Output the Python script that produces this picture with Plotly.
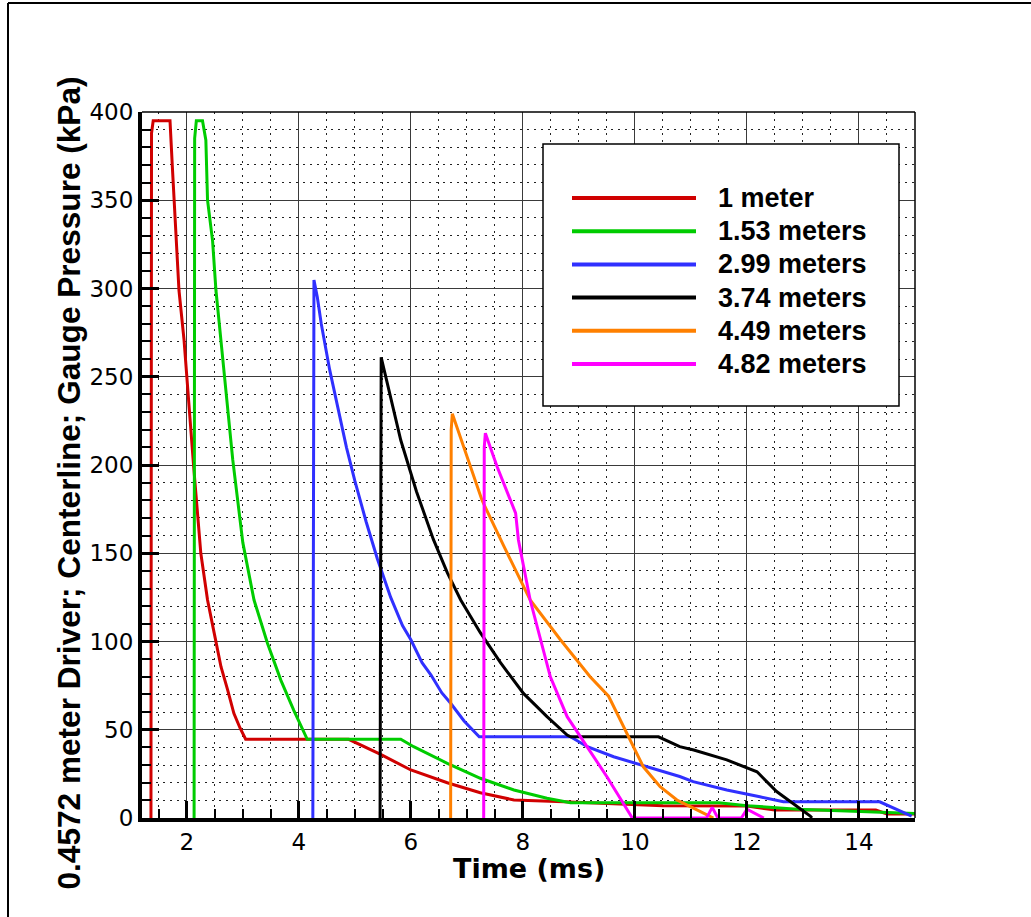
import plotly.graph_objects as go

# Centerline gauge pressure histories at several stand-off distances
series_names = ["1 meter", "1.53 meters", "2.99 meters", "3.74 meters", "4.49 meters", "4.82 meters"]
series_colors = ["#D00000", "#00CC00", "#3030FF", "#000000", "#FF8000", "#FF00FF"]

t_1m = [1.36, 1.37, 1.40, 1.70, 1.74, 1.80, 1.86, 1.95, 2.03, 2.12, 2.25, 2.37, 2.49, 2.61,
        2.73, 2.84, 2.95, 3.05, 4.89, 5.46, 6.00, 6.65, 7.24, 7.84, 8.73, 10.5, 12.0, 12.5,
        14.3, 14.5, 15.0]
p_1m = [0, 388, 395, 395, 370, 337, 299, 271, 235, 200, 150, 123.5, 104.6, 85.7,
        72.5, 59.3, 51, 44.6, 44.6, 36, 27.2, 20, 14.3, 10.2, 9.2, 7, 6.8, 4.5,
        4.5, 2.3, 2.3]

t_153m = [2.13, 2.14, 2.17, 2.28, 2.34, 2.37, 2.46, 2.52, 2.58, 2.68, 2.82, 3.00, 3.20, 3.44,
          3.68, 3.91, 4.15, 5.82, 6.05, 6.65, 7.24, 7.84, 8.43, 8.85, 11.5, 12.0, 12.9,
          13.9, 14.6, 15.0]
p_153m = [0, 385, 395, 395, 384, 350, 327, 299, 280, 248, 203, 156, 123.5, 99,
          78, 61, 44.6, 44.6, 40.4, 31, 22.5, 15.9, 11.2, 8.7, 8.7, 7, 5,
          3.8, 3, 2.5]

t_299m = [4.25, 4.26, 4.27, 4.33, 4.40, 4.55, 4.70, 4.85, 5.00, 5.20, 5.40, 5.64, 5.85, 6.00,
          6.20, 6.36, 6.55, 6.71, 6.95, 7.10, 7.22, 8.85, 9.15, 9.62, 10.2, 10.8, 11.04,
          11.64, 12.23, 12.65, 14.37, 14.94]
p_299m = [0, 280, 304.8, 295, 280, 254, 232, 210, 191, 168, 147, 125, 109, 101,
          88, 81, 71, 65, 55, 50, 46, 46, 40.4, 34.7, 29, 23.5, 20.6,
          15.9, 12, 9.2, 9.2, 1]

t_374m = [5.45, 5.46, 5.47, 5.82, 6.10, 6.40, 6.65, 6.89, 7.24, 7.60, 8.01, 8.43, 8.79, 8.85,
          10.42, 10.80, 11.05, 11.64, 12.18, 12.53, 12.83, 13.13, 13.16]
p_374m = [0, 255, 261, 214, 185, 158, 139, 123.5, 105, 88, 70.6, 57.4, 47, 46,
          46, 40.4, 38.5, 32.9, 26.2, 15, 8.3, 1.1, 0]

t_449m = [6.71, 6.72, 6.74, 7.27, 7.66, 8.13, 8.67, 9.20, 9.53, 9.86, 10.15, 10.45, 10.75,
          11.17, 11.34, 11.40]
p_449m = [0, 220, 229, 180, 154, 123.5, 101, 80, 69, 48, 29, 17.7, 10.2,
          3.6, 0.7, 0]

t_482m = [7.30, 7.31, 7.33, 7.54, 7.87, 7.92, 8.13, 8.49, 8.79, 9.15, 9.50, 9.92, 9.95,
          11.28, 11.38, 11.48, 11.90, 12.00, 12.30]
p_482m = [0, 210, 218, 199, 172.7, 157.5, 123.5, 80, 57.4, 40.4, 23.4, 1.7, 0,
          0, 6, 0, 0, 5, 0]

series_t = [t_1m, t_153m, t_299m, t_374m, t_449m, t_482m]
series_p = [p_1m, p_153m, p_299m, p_374m, p_449m, p_482m]

SANS = "Liberation Sans, Arial, Helvetica, sans-serif"
WIDE = "DejaVu Sans, Verdana, sans-serif"

fig = go.Figure()
for name, color, t, p in zip(series_names, series_colors, series_t, series_p):
    fig.add_trace(go.Scatter(x=t, y=p, mode="lines", name=name,
                             line=dict(color=color, width=3), showlegend=False))

axis_common = dict(
    showline=True, linecolor="black", linewidth=4, mirror=False,
    ticks="inside", tickcolor="black", ticklen=17, tickwidth=3,
    showgrid=True, gridcolor="#3a3a3a", gridwidth=1.2,
    zeroline=False,
    tickfont=dict(family=WIDE, size=23, color="black"),
)

fig.update_xaxes(range=[1.2, 15], tick0=0, dtick=2,
                 minor=dict(dtick=0.5, ticks="inside", ticklen=9, tickwidth=1.5,
                            tickcolor="black", showgrid=True, gridcolor="#222",
                            gridwidth=1, griddash="1.5px,5.5px"),
                 **axis_common)
fig.update_yaxes(range=[0, 400], tick0=0, dtick=50,
                 minor=dict(dtick=10, ticks="inside", ticklen=9, tickwidth=1.5,
                            tickcolor="black", showgrid=True, gridcolor="#222",
                            gridwidth=1, griddash="1.5px,5.5px"),
                 **axis_common)

# plot-area pixel geometry, used to place frame, legend and titles
L, R, T, B = 142, 915, 112, 818
W, H = 1031, 917
PW, PH = R - L, B - T


def px(x):
    return (x - L) / PW


def py(y):
    return (B - y) / PH


shapes = [
    # thin top and right borders of the plot box
    dict(type="line", xref="paper", yref="paper", x0=0, x1=1, y0=1, y1=1,
         line=dict(color="black", width=1.5)),
    dict(type="line", xref="paper", yref="paper", x0=1, x1=1, y0=0, y1=1,
         line=dict(color="black", width=1.5)),
    # outer page frame
    dict(type="line", xref="paper", yref="paper", x0=px(8), x1=px(W), y0=py(3), y1=py(3),
         line=dict(color="black", width=2)),
    dict(type="line", xref="paper", yref="paper", x0=px(8), x1=px(8), y0=py(3), y1=py(H),
         line=dict(color="black", width=2)),
    # legend box
    dict(type="rect", xref="paper", yref="paper", x0=px(543), x1=px(899), y0=py(406), y1=py(144),
         fillcolor="white", line=dict(color="black", width=1.5)),
]

annotations = []
row0, row_step = 198, 33.2
for i, (name, color) in enumerate(zip(series_names, series_colors)):
    yy = row0 + i * row_step
    shapes.append(dict(type="line", xref="paper", yref="paper", x0=px(572), x1=px(696),
                       y0=py(yy), y1=py(yy), line=dict(color=color, width=4)))
    annotations.append(dict(xref="paper", yref="paper", x=px(716), y=py(yy), text="<b>%s</b>" % name,
                            showarrow=False, xanchor="left", yanchor="middle",
                            font=dict(family=SANS, size=27, color="black")))

annotations.append(dict(xref="paper", yref="paper", x=px(528.5), y=py(868), text="<b>Time (ms)</b>",
                        showarrow=False, xanchor="center", yanchor="middle",
                        font=dict(family=WIDE, size=27, color="black")))
annotations.append(dict(xref="paper", yref="paper", x=px(69), y=py(483.5),
                        text="<b>0.4572 meter Driver; Centerline; Gauge Pressure (kPa)</b>",
                        textangle=-90, showarrow=False, xanchor="center", yanchor="middle",
                        font=dict(family=SANS, size=31.6, color="black")))

fig.update_layout(
    width=W, height=H,
    margin=dict(l=L, r=W - R, t=T, b=H - B),
    paper_bgcolor="white", plot_bgcolor="white",
    shapes=shapes, annotations=annotations,
    showlegend=False,
)

fig.write_html("out.html")
